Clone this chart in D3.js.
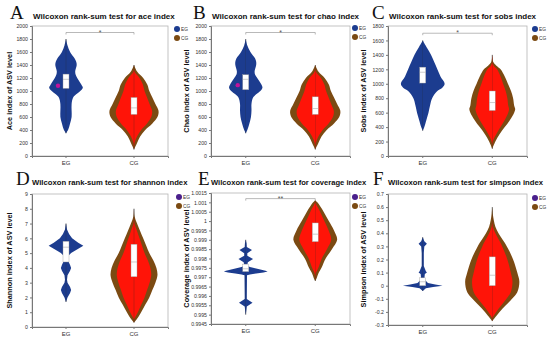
<!DOCTYPE html>
<html>
<head>
<meta charset="utf-8">
<script src="https://cdn.jsdelivr.net/npm/d3@7"></script>
<style>
  html, body { margin: 0; padding: 0; background: #fff; }
  svg { display: block; font-family: "Liberation Sans", Arial, sans-serif; }
</style>
</head>
<body>
<svg id="chart" width="550" height="340"></svg>
<script>
// groups
const categories = ['EG', 'CG'];

// violin outlines: [value, density]
const aceEG = [[1800,0],[1700,1.5],[1600,4],[1500,8.5],[1450,10],[1400,10.5],[1300,9],[1250,9.5],[1200,11],[1100,15],[1050,16.5],[1000,14],[950,10],[900,7],[800,5.5],[700,5.5],[600,5.5],[500,4],[400,2],[350,0]];
const aceCG = [[1400,0],[1300,3],[1200,9],[1100,13],[1000,15],[900,18],[800,21],[700,24],[650,24],[600,23],[500,18],[400,11],[300,6],[200,3],[100,0]];
const chaoEG = [[1800,0],[1700,1.5],[1600,4.5],[1500,9],[1450,10],[1400,10],[1300,8.5],[1250,9],[1200,11],[1100,15],[1050,16],[1000,14],[950,10],[900,7],[800,5.5],[700,5.5],[600,5],[500,3.5],[400,1.5],[350,0]];
const chaoCG = [[1400,0],[1300,3],[1200,9],[1100,13],[1000,15],[900,18],[800,21],[700,24],[650,24],[600,23],[500,18],[400,11],[300,6],[200,3],[100,0]];
const sobsEG = [[1600,0],[1500,4],[1400,8],[1300,11],[1200,14],[1100,17],[1000,21],[950,19],[900,14],[800,9],[700,7],[600,5.5],[500,3.5],[400,1.5],[350,0]];
const sobsCG = [[1400,0],[1300,1],[1250,4],[1200,8],[1100,12],[1000,15],[900,18],[800,20],[700,21],[650,22],[600,21],[500,17],[400,12],[300,7],[200,3],[100,0]];
const shannonEG = [[7.0,0],[6.6,1],[6.3,3],[6.0,6],[5.7,12],[5.5,17],[5.3,12],[5.0,5],[4.8,2],[4.5,2],[4.2,4],[4.0,5],[3.8,4],[3.5,1.5],[3.2,1],[3.0,1.5],[2.7,4],[2.5,5],[2.3,4],[2.0,1.5],[1.7,0]];
const shannonCG = [[8.0,0],[7.5,0.5],[7.0,3],[6.5,6],[6.0,9],[5.5,12],[5.0,15],[4.5,19],[4.0,22],[3.5,23],[3.0,21],[2.5,18],[2.0,15],[1.5,11],[1.0,7],[0.5,2.5],[0.3,0]];
const coverageEG = [[0.9990,0],[0.9988,0.8],[0.99862,1],[0.99845,6],[0.99828,1.5],[0.99815,1.5],[0.99797,7],[0.9978,2],[0.99765,1.5],[0.9976,2],[0.99755,4],[0.9975,7],[0.99745,11],[0.9974,15],[0.99735,19],[0.9973,21],[0.99725,17],[0.9972,10],[0.99715,4],[0.9971,1.2],[0.9960,1],[0.99583,1],[0.99563,6.5],[0.99543,1],[0.9952,0.5],[0.9950,0]];
const coverageCG = [[1.0011,0],[1.0010,2],[1.0005,8],[1.0000,13],[0.9995,18],[0.9990,21],[0.9985,16],[0.9980,10],[0.9975,6],[0.9972,3],[0.9969,1],[0.9968,0]];
const simpsonEG = [[0.37,0],[0.34,1.5],[0.32,4],[0.30,1.5],[0.25,1],[0.15,1],[0.11,3],[0.10,4],[0.09,2],[0.05,1.5],[0.02,5],[0.01,12],[0.0,19],[-0.01,10],[-0.02,3],[-0.04,0]];
const simpsonCG = [[0.60,0],[0.55,0.5],[0.50,1.5],[0.45,3],[0.40,6],[0.35,10],[0.30,14],[0.20,20],[0.10,24],[0.03,26],[-0.05,24],[-0.10,19],[-0.15,13],[-0.20,7],[-0.25,2],[-0.27,0]];

// boxes: [q1, median, q3]
const aceBoxEG = [1040, 1180, 1260], aceBoxCG = [640, 740, 900];
const chaoBoxEG = [1020, 1180, 1250], chaoBoxCG = [640, 730, 910];
const sobsBoxEG = [1010, 1160, 1230], sobsBoxCG = [630, 740, 900];
const shannonBoxEG = [4.4, 5.4, 5.8], shannonBoxCG = [3.4, 4.4, 5.6];
const coverageBoxEG = [0.9973, 0.99745, 0.9977], coverageBoxCG = [0.9989, 0.9993, 0.9999];
const simpsonBoxEG = [0.0, 0.03, 0.06], simpsonBoxCG = [0.0, 0.08, 0.22];

// single points
const acePoints = [['EG', 1080]];
const chaoPoints = [['EG', 1090]];

// tick values and labels
const aceTicks = d3.range(0, 2001, 200);
const sobsTicks = d3.range(0, 1801, 200);
const shannonTicks = d3.range(0, 10, 1);
const coverageTicks = [0.9945,0.995,0.9955,0.996,0.9965,0.997,0.9975,0.998,0.9985,0.999,0.9995,1,1.0005,1.001,1.0015];
const coverageLabels = ['0.9945','0.995','0.9955','0.996','0.9965','0.997','0.9975','0.998','0.9985','0.999','0.9995','1','1.0005','1.001','1.0015'];
const simpsonTicks = [-0.3,-0.2,-0.1,0,0.1,0.2,0.3,0.4,0.5,0.6,0.7];
const simpsonLabels = ['-0.3','-0.2','-0.1','0','0.1','0.2','0.3','0.4','0.5','0.6','0.7'];

const BLUE = '#1c3c8f', BROWN = '#7b4a12', RED = '#ff1408', PURPLE = '#4a1f8c';

const panels = [
  { letter: 'A', title: 'Wilcoxon rank-sum test for ace index', ylabel: 'Ace index of ASV level',
    domain: [0, 2000], ticks: aceTicks, violins: [aceEG, aceCG], boxes: [aceBoxEG, aceBoxCG],
    points: acePoints, sig: [1900, '*'], rect: [32, 26, 168, 156], lx: 10, tx: 33, ty: 18.5, fs: 8, yl: 12, leg: [177, 29], egCol: BLUE, smooth: true },
  { letter: 'B', title: 'Wilcoxon rank-sum test for chao index', ylabel: 'Chao index of ASV level',
    domain: [0, 2000], ticks: aceTicks, violins: [chaoEG, chaoCG], boxes: [chaoBoxEG, chaoBoxCG],
    points: chaoPoints, sig: [1900, '*'], rect: [211, 26, 350, 156], lx: 193, tx: 212, ty: 18.5, fs: 8, yl: 189, leg: [355, 28], egCol: BLUE, smooth: true },
  { letter: 'C', title: 'Wilcoxon rank-sum test for sobs index', ylabel: 'Sobs index of ASV level',
    domain: [0, 1800], ticks: sobsTicks, violins: [sobsEG, sobsCG], boxes: [sobsBoxEG, sobsBoxCG],
    points: [], sig: [1700, '*'], rect: [388, 26, 527, 156], lx: 372, tx: 389, ty: 18.5, fs: 8, yl: 366, leg: [535, 29], egCol: BLUE, smooth: true },
  { letter: 'D', title: 'Wilcoxon rank-sum test for shannon index', ylabel: 'Shannon index of ASV level',
    domain: [0, 9], ticks: shannonTicks, violins: [shannonEG, shannonCG], boxes: [shannonBoxEG, shannonBoxCG],
    points: [], sig: null, rect: [32, 194, 168, 327], lx: 16, tx: 32, ty: 185, fs: 7.7, yl: 12, leg: [179, 197], egCol: PURPLE, smooth: false },
  { letter: 'E', title: 'Wilcoxon rank-sum test for coverage index', ylabel: 'Coverage index of ASV level',
    domain: [0.9945, 1.0015], ticks: coverageTicks, labels: coverageLabels, violins: [coverageEG, coverageCG], boxes: [coverageBoxEG, coverageBoxCG],
    points: [], sig: [1.0012, '**'], rect: [211, 193, 350, 324], lx: 198, tx: 211, ty: 185, fs: 7.6, yl: 189, leg: [355, 197], egCol: PURPLE, smooth: false },
  { letter: 'F', title: 'Wilcoxon rank-sum test for simpson index', ylabel: 'Simpson index of ASV level',
    domain: [-0.3, 0.7], ticks: simpsonTicks, labels: simpsonLabels, violins: [simpsonEG, simpsonCG], boxes: [simpsonBoxEG, simpsonBoxCG],
    points: [], sig: null, rect: [388, 194, 527, 325], lx: 373, tx: 388, ty: 185, fs: 7.7, yl: 366, leg: [535, 198], egCol: PURPLE, smooth: false }
];

const svg = d3.select('#chart');

panels.forEach(p => {
  const [x0, y0, x1, y1] = p.rect;
  const g = svg.append('g');
  const y = d3.scaleLinear().domain(p.domain).range([y1, y0]);
  const x = d3.scaleBand().domain(categories).range([x0, x1]);
  const bw = x.bandwidth();
  const w = d3.scaleLinear().domain([0, 30]).range([0, bw * 0.45]);

  // frame
  g.append('rect').attr('x', x0).attr('y', y0).attr('width', x1 - x0).attr('height', y1 - y0)
    .attr('fill', 'none').attr('stroke', '#b4b4b4').attr('stroke-width', 0.8);

  // violins
  categories.forEach((c, i) => {
    const cx = x(c) + bw / 2;
    const prof = p.violins[i];
    const curve = (p.smooth || i === 1) ? d3.curveCatmullRom : d3.curveLinear;
    const area = k => d3.area()
      .y(d => y(d[0]))
      .x0(d => cx - k(d[1]))
      .x1(d => cx + k(d[1]))
      .curve(curve);
    const ext = d3.extent(prof, d => d[0]);
    // whisker line
    g.append('line').attr('x1', cx).attr('x2', cx).attr('y1', y(ext[0])).attr('y2', y(ext[1]))
      .attr('stroke', '#2a2a2a').attr('stroke-width', 0.6);
    if (i === 0) {
      g.append('path').datum(prof).attr('d', area(w)).attr('fill', BLUE);
    } else {
      g.append('path').datum(prof).attr('d', area(w)).attr('fill', BROWN);
      g.append('path').datum(prof).attr('d', area(v => Math.max(0, w(v) * 0.82 - 2))).attr('fill', RED);
    }
    g.append('line').attr('x1', cx).attr('x2', cx).attr('y1', y(ext[0])).attr('y2', y(ext[1]))
      .attr('stroke', '#2a2a2a').attr('stroke-width', 0.4).attr('opacity', 0.6);
    // box
    const b = p.boxes[i];
    g.append('rect').attr('x', cx - 3).attr('y', y(b[2])).attr('width', 6)
      .attr('height', Math.max(1, y(b[0]) - y(b[2])))
      .attr('fill', '#fff').attr('stroke', '#9a9a9a').attr('stroke-width', 0.4);
    g.append('line').attr('x1', cx - 3).attr('x2', cx + 3).attr('y1', y(b[1])).attr('y2', y(b[1]))
      .attr('stroke', '#aaa').attr('stroke-width', 0.6);
  });

  // single points
  p.points.forEach(pt => {
    g.append('circle').attr('cx', x(pt[0]) + bw / 2 - 8).attr('cy', y(pt[1])).attr('r', 2.2)
      .attr('fill', '#c0139a');
  });

  // significance bracket
  if (p.sig) {
    const sy = y(p.sig[0]);
    const xa = x('EG') + bw / 2, xb = x('CG') + bw / 2;
    g.append('path').attr('d', `M${xa},${sy + 2}V${sy}H${xb}V${sy + 2}`)
      .attr('fill', 'none').attr('stroke', '#8a8a8a').attr('stroke-width', 0.6);
    g.append('text').attr('x', (xa + xb) / 2).attr('y', sy + 2).attr('text-anchor', 'middle')
      .attr('font-size', 7).attr('fill', '#555').text(p.sig[1]);
  }

  // axes
  const ya = g.append('g').attr('transform', `translate(${x0},0)`)
    .call(d3.axisLeft(y).tickValues(p.ticks).tickSize(2).tickPadding(2)
      .tickFormat((d, i) => p.labels ? p.labels[i] : d));
  ya.select('.domain').attr('stroke', '#777');
  ya.selectAll('.tick line').attr('stroke', '#777');
  ya.selectAll('text').attr('font-size', 5.2).attr('fill', '#333').attr('font-family', '"Liberation Sans", Arial, sans-serif');

  const xa = g.append('g').attr('transform', `translate(0,${y1})`)
    .call(d3.axisBottom(x).tickSize(2).tickPadding(3));
  xa.select('.domain').attr('stroke', '#777');
  xa.selectAll('.tick line').attr('stroke', '#777');
  xa.selectAll('text').attr('font-size', 6).attr('fill', '#333').attr('font-family', '"Liberation Sans", Arial, sans-serif');

  // y label
  g.append('text').attr('transform', `translate(${p.yl},${(y0 + y1) / 2}) rotate(-90)`)
    .attr('text-anchor', 'middle').attr('font-size', 7.3).attr('font-weight', 'bold').attr('fill', '#111')
    .text(p.ylabel);

  // titles
  g.append('text').attr('x', p.lx).attr('y', p.ty).attr('font-family', '"Liberation Serif", "Times New Roman", serif')
    .attr('font-size', 19).attr('fill', '#111').text(p.letter);
  g.append('text').attr('x', p.tx).attr('y', p.ty).attr('font-size', p.fs).attr('font-weight', 'bold')
    .attr('fill', '#111').text(p.title);

  // legend
  const [lgx, lgy] = p.leg;
  [p.egCol, BROWN].forEach((col, i) => {
    g.append('circle').attr('cx', lgx).attr('cy', lgy + i * 9).attr('r', 3).attr('fill', col);
    g.append('text').attr('x', lgx + 4).attr('y', lgy + i * 9 + 1.8).attr('font-size', 4.8)
      .attr('fill', '#333').text(categories[i]);
  });
});
</script>
</body>
</html>
